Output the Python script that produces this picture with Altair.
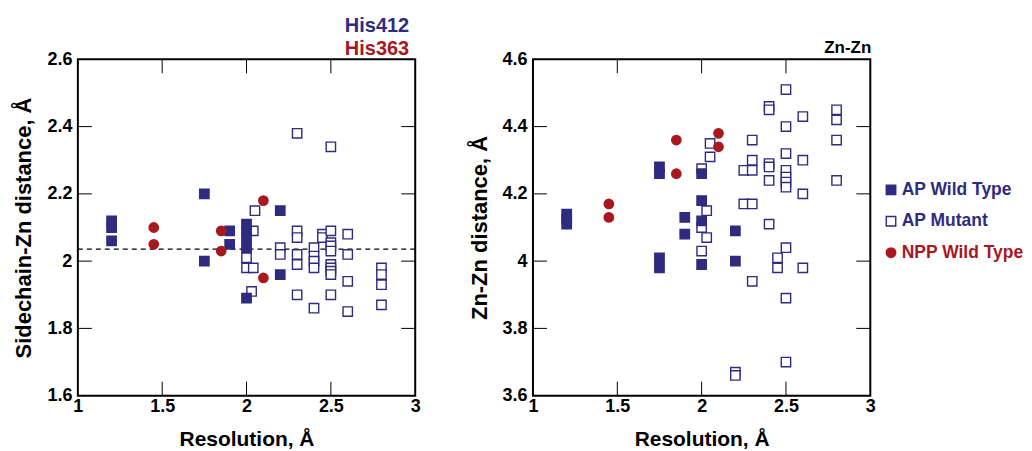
import altair as alt
import pandas as pd

BLUE = "#2e2b80"
RED = "#a8181f"
FONT = "Liberation Sans"
TYPES = ["AP Wild Type", "AP Mutant", "NPP Wild Type"]

# ---------- Left panel: Sidechain-Zn distance ----------
sz_wt_x = [1.2, 1.2, 1.2, 1.75, 1.75, 1.9, 1.9, 2.0, 2.0, 2.0, 2.0, 2.0, 2.2, 2.2]
sz_wt_y = [2.12, 2.10, 2.06, 2.20, 2.00, 2.09, 2.05, 2.11, 2.09, 2.07, 2.04, 1.89, 2.15, 1.96]
sz_mut_x = [2.0, 2.0, 2.04, 2.04, 2.05, 2.03, 2.2, 2.2, 2.3, 2.3, 2.3, 2.3, 2.3, 2.3,
            2.5, 2.4, 2.4, 2.4, 2.4, 2.4, 2.45, 2.45, 2.5, 2.5, 2.5, 2.5, 2.5, 2.5,
            2.5, 2.5, 2.5, 2.6, 2.6, 2.6, 2.6, 2.8, 2.8, 2.8, 2.8]
sz_mut_y = [2.01, 1.98, 1.98, 2.09, 2.15, 1.91, 2.04, 2.02, 2.38, 2.09, 2.07, 2.02, 1.99, 1.90,
            2.34, 2.04, 2.015, 2.00, 1.98, 1.86, 2.08, 2.07, 2.09, 2.055, 2.045, 2.03, 1.99, 1.98,
            1.97, 1.96, 1.90, 2.08, 2.02, 1.94, 1.85, 1.98, 1.96, 1.93, 1.87]
sz_npp_x = [1.45, 1.45, 1.85, 1.85, 2.1, 2.1]
sz_npp_y = [2.10, 2.05, 2.09, 2.03, 2.18, 1.95]
sz_ref = [2.036]

# ---------- Right panel: Zn-Zn distance ----------
zn_wt_x = [1.2, 1.2, 1.2, 1.75, 1.75, 1.75, 1.75, 1.9, 1.9, 2.0, 2.0, 2.0, 2.0, 2.2, 2.2]
zn_wt_y = [4.14, 4.125, 4.11, 4.28, 4.26, 4.01, 3.98, 4.13, 4.08, 4.26, 4.18, 4.12, 3.99, 4.09, 4.00]
zn_mut_x = [2.0, 2.0, 2.0, 2.03, 2.03, 2.05, 2.05, 2.2, 2.2, 2.25, 2.25, 2.3, 2.3, 2.3, 2.3, 2.3,
            2.4, 2.4, 2.4, 2.4, 2.4, 2.4, 2.45, 2.45, 2.5, 2.5, 2.5, 2.5, 2.5, 2.5, 2.5, 2.5,
            2.5, 2.5, 2.6, 2.6, 2.6, 2.6, 2.8, 2.8, 2.8, 2.8]
zn_mut_y = [4.275, 4.10, 4.03, 4.15, 4.07, 4.35, 4.31, 3.67, 3.66, 4.27, 4.17, 4.36, 4.30, 4.27, 4.17, 3.94,
            4.46, 4.45, 4.29, 4.28, 4.24, 4.11, 4.01, 3.98, 4.51, 4.40, 4.32, 4.27, 4.25, 4.235, 4.22, 4.04,
            3.89, 3.70, 4.43, 4.30, 4.20, 3.98, 4.45, 4.42, 4.36, 4.24]
zn_npp_x = [1.45, 1.45, 1.85, 1.85, 2.1, 2.1]
zn_npp_y = [4.17, 4.13, 4.36, 4.26, 4.38, 4.34]

x_ticks = [1, 1.5, 2, 2.5, 3]
sz_ticks = [1.6, 1.8, 2.0, 2.2, 2.4, 2.6]
zn_ticks = [3.6, 3.8, 4.0, 4.2, 4.4, 4.6]

W = 338
H = 337
TICK = 14
X_TITLE = "Resolution, Å"


def make_df(wt_x, wt_y, mut_x, mut_y, npp_x, npp_y):
    parts = [
        pd.DataFrame({"x": mut_x, "y": mut_y, "type": TYPES[1]}),
        pd.DataFrame({"x": wt_x, "y": wt_y, "type": TYPES[0]}),
        pd.DataFrame({"x": npp_x, "y": npp_y, "type": TYPES[2]}),
    ]
    df = pd.concat(parts, ignore_index=True)
    df["order"] = range(len(df))
    return df


legend = alt.Legend(
    title=None,
    orient="none",
    legendX=806,
    legendY=122,
    padding=0,
    labelFont=FONT,
    labelFontSize=17.5,
    labelFontWeight="bold",
    labelColor={"expr": f"datum.label == 'NPP Wild Type' ? '{RED}' : '{BLUE}'"},
    labelOffset=2,
    symbolSize=90,
    symbolStrokeWidth=1.4,
    rowPadding=12.5,
)


def make_axis(vals, pad, tpad, tsize):
    return alt.Axis(values=vals, format="~g", ticks=False, tickSize=0, domain=False,
                    grid=False, labelFont=FONT, labelFontSize=18, labelFontWeight="bold",
                    labelColor="black", labelPadding=pad, titleFont=FONT, titleFontSize=tsize,
                    titleFontWeight="bold", titleColor="black", titlePadding=tpad,
                    labelFlush=False)


def panel(df, y_ticks, y_title, title, ref=None):
    xs = alt.Scale(domain=[1, 3], nice=False, zero=False)
    ys = alt.Scale(domain=[y_ticks[0], y_ticks[-1]], nice=False, zero=False)
    xa = make_axis(x_ticks, 2, 13, 21)
    ya = make_axis(y_ticks, 6, 11, 22)

    def X(f):
        return alt.X(f, scale=xs, title=X_TITLE, axis=xa)

    def Y(f):
        return alt.Y(f, scale=ys, title=y_title, axis=ya)

    pts = alt.Chart(df).mark_point(filled=False, size=88, strokeWidth=1.4, opacity=1).encode(
        x=X("x:Q"),
        y=Y("y:Q"),
        shape=alt.Shape("type:N", scale=alt.Scale(domain=TYPES, range=["square", "square", "circle"]), legend=legend),
        fill=alt.Fill("type:N", scale=alt.Scale(domain=TYPES, range=[BLUE, "#ffffff", RED]), legend=legend),
        stroke=alt.Stroke("type:N", scale=alt.Scale(domain=TYPES, range=[BLUE, BLUE, RED]), legend=legend),
        order=alt.Order("order:Q"),
    )
    xin = pd.DataFrame({"x": x_ticks[1:-1]})
    yin = pd.DataFrame({"y": y_ticks[1:-1]})
    tb = alt.Chart(xin).mark_rule(color="black", strokeWidth=1).encode(
        x=X("x:Q"), y=alt.value(H), y2=alt.value(H - TICK))
    tt = alt.Chart(xin).mark_rule(color="black", strokeWidth=1).encode(
        x=X("x:Q"), y=alt.value(0), y2=alt.value(TICK))
    tl = alt.Chart(yin).mark_rule(color="black", strokeWidth=1).encode(
        y=Y("y:Q"), x=alt.value(0), x2=alt.value(TICK))
    tr = alt.Chart(yin).mark_rule(color="black", strokeWidth=1).encode(
        y=Y("y:Q"), x=alt.value(W), x2=alt.value(W - TICK))
    layers = [tb, tt, tl, tr]
    if ref is not None:
        rl = alt.Chart(pd.DataFrame({"y": ref})).mark_rule(
            color="black", strokeWidth=1.2, strokeDash=[5, 4]).encode(y=Y("y:Q"))
        layers.append(rl)
    layers.append(pts)
    return alt.layer(*layers).properties(width=W, height=H, title=title)


left_df = make_df(sz_wt_x, sz_wt_y, sz_mut_x, sz_mut_y, sz_npp_x, sz_npp_y)
right_df = make_df(zn_wt_x, zn_wt_y, zn_mut_x, zn_mut_y, zn_npp_x, zn_npp_y)

left_title = alt.TitleParams(
    text="His412", subtitle="His363", anchor="end", dx=-11, offset=-9,
    font=FONT, fontSize=20, fontWeight="bold", color=BLUE,
    subtitleFont=FONT, subtitleFontSize=20, subtitleFontWeight="bold", subtitleColor=RED,
    subtitlePadding=3)
right_title = alt.TitleParams(
    text="Zn-Zn", anchor="end", dx=-4, offset=-7,
    font=FONT, fontSize=17, fontWeight="bold", color="black")

left = panel(left_df, sz_ticks, "Sidechain-Zn distance, Å", left_title, ref=sz_ref)
right = panel(right_df, zn_ticks, "Zn-Zn distance, Å", right_title)

chart = alt.hconcat(left, right, spacing=118, bounds="flush").properties(
    padding={"left": 3, "top": 7, "right": 0, "bottom": 0}
).configure_view(stroke="black", strokeWidth=2)

chart.save("out.html", embed_options={"renderer": "svg", "actions": False})
